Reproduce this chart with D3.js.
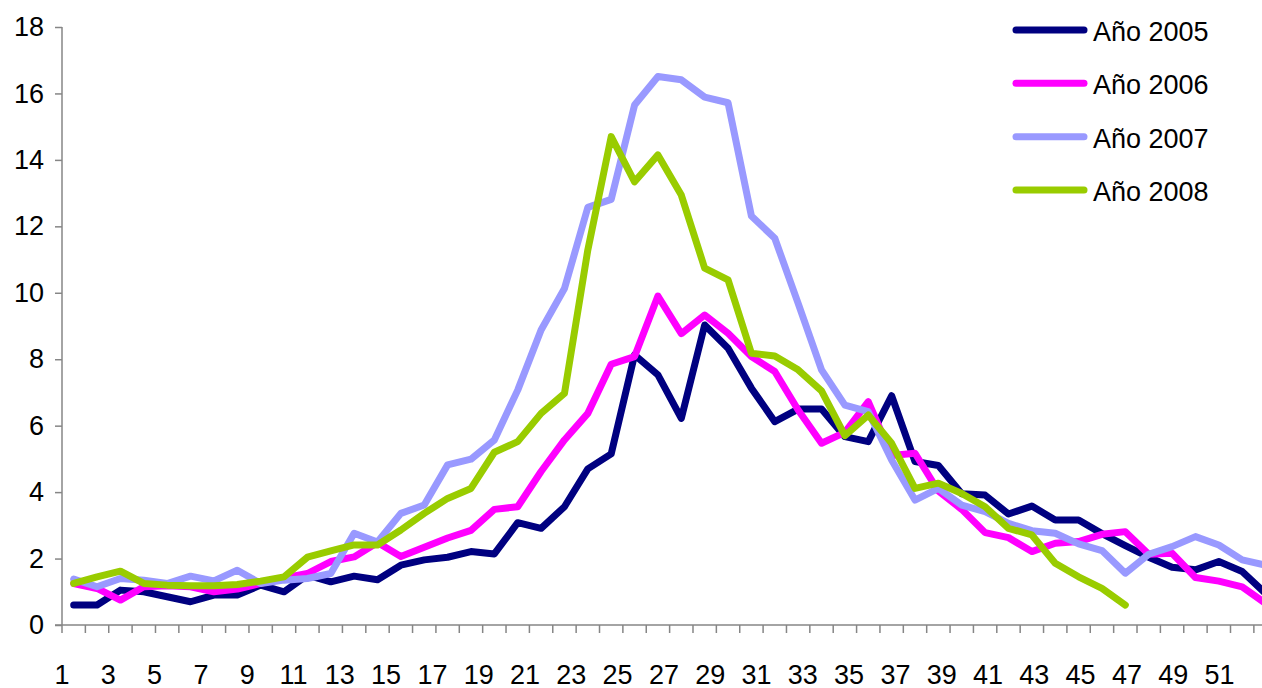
<!DOCTYPE html>
<html>
<head>
<meta charset="utf-8">
<script src="https://cdn.jsdelivr.net/npm/d3@7"></script>
<style>
  html, body { margin: 0; padding: 0; background: #fff; }
  svg { display: block; }
  text { font-family: "Liberation Sans", Arial, sans-serif; fill: #000; }
</style>
</head>
<body>
<svg id="chart" width="1262" height="688"></svg>
<script>
// Weekly values per year (weeks 1..52; 2008 only runs to week 46)
const weeks = d3.range(1, 53);
const serie2005 = [0.60, 0.60, 1.05, 1.00, 0.85, 0.70, 0.90, 0.90, 1.20, 1.00,
  1.50, 1.30, 1.47, 1.36, 1.80, 1.96, 2.04, 2.21, 2.14, 3.08,
  2.91, 3.56, 4.70, 5.15, 8.13, 7.53, 6.22, 9.03, 8.33, 7.13,
  6.12, 6.50, 6.50, 5.67, 5.52, 6.90, 4.92, 4.80, 3.95, 3.91,
  3.34, 3.58, 3.16, 3.16, 2.75, 2.39, 2.04, 1.74, 1.66, 1.91,
  1.61, 0.95];
const serie2006 = [1.25, 1.10, 0.75, 1.15, 1.18, 1.15, 1.00, 1.08, 1.25, 1.42,
  1.55, 1.91, 2.05, 2.48, 2.06, 2.34, 2.62, 2.85, 3.48, 3.56,
  4.62, 5.57, 6.37, 7.85, 8.08, 9.90, 8.77, 9.33, 8.78, 8.08,
  7.63, 6.47, 5.47, 5.80, 6.72, 5.10, 5.17, 4.03, 3.48, 2.78,
  2.63, 2.21, 2.46, 2.51, 2.73, 2.81, 2.13, 2.16, 1.43, 1.32,
  1.15, 0.65];
const serie2007 = [1.38, 1.15, 1.40, 1.35, 1.25, 1.47, 1.33, 1.65, 1.25, 1.35,
  1.40, 1.55, 2.76, 2.50, 3.36, 3.61, 4.82, 4.99, 5.57, 7.07,
  8.88, 10.13, 12.57, 12.81, 15.65, 16.51, 16.41, 15.89, 15.72, 12.31,
  11.64, 9.68, 7.68, 6.62, 6.42, 4.97, 3.76, 4.11, 3.61, 3.41,
  3.06, 2.84, 2.76, 2.44, 2.24, 1.56, 2.13, 2.36, 2.66, 2.41,
  1.96, 1.80];
const serie2008 = [1.25, 1.45, 1.62, 1.25, 1.20, 1.18, 1.18, 1.22, 1.32, 1.45,
  2.04, 2.23, 2.41, 2.41, 2.86, 3.36, 3.81, 4.11, 5.20, 5.52,
  6.37, 6.97, 11.29, 14.70, 13.34, 14.15, 12.94, 10.74, 10.39, 8.18,
  8.10, 7.68, 7.05, 5.70, 6.32, 5.47, 4.11, 4.27, 3.96, 3.56,
  2.91, 2.71, 1.86, 1.45, 1.10, 0.60];

const seriesNames = ["Año 2005", "Año 2006", "Año 2007", "Año 2008"];
const seriesValues = [serie2005, serie2006, serie2007, serie2008];
const seriesColors = ["#000080", "#FF00FF", "#9999FF", "#99CC00"];

const yTicks = d3.range(0, 19, 2);
const xTickLabels = d3.range(1, 52, 2);

const svg = d3.select("#chart");
const axisColor = "#868686";
const fontSize = 27;

// Scales
const bandW = 23.37;
const x = d3.scaleBand().domain(weeks).range([62, 62 + weeks.length * bandW]);
const xLabel = d3.scaleLinear().domain([1, 51]).range([62, 1219.5]);
const y = d3.scaleLinear().domain([0, 18]).range([625, 27]);
const cx = d => x(d) + x.bandwidth() / 2;

// Y axis
const yAxis = svg.append("g").attr("transform", "translate(62,0)")
  .call(d3.axisLeft(y).tickValues(yTicks).tickSize(7).tickPadding(11).tickFormat(d3.format("d")));
yAxis.select(".domain").attr("stroke", axisColor).attr("stroke-width", 1.5)
  .attr("d", `M0,${y(18)}V${y(0)}`);
yAxis.selectAll(".tick line").attr("stroke", axisColor).attr("stroke-width", 1.5);
yAxis.selectAll(".tick text").attr("font-size", fontSize)
  .attr("font-family", "'Liberation Sans', Arial, sans-serif").attr("fill", "#000");

// X axis: baseline, category boundary ticks, odd week labels
const xAxis = svg.append("g");
xAxis.append("line")
  .attr("x1", 55).attr("x2", 1262).attr("y1", y(0)).attr("y2", y(0))
  .attr("stroke", axisColor).attr("stroke-width", 1.5);
xAxis.selectAll("line.xt").data(weeks).join("line").attr("class", "xt")
  .attr("x1", d => x(d)).attr("x2", d => x(d))
  .attr("y1", y(0)).attr("y2", y(0) + 8)
  .attr("stroke", axisColor).attr("stroke-width", 1.5);
xAxis.selectAll("text").data(xTickLabels).join("text")
  .attr("x", d => xLabel(d)).attr("y", 683.5)
  .attr("text-anchor", "middle").attr("font-size", fontSize)
  .text(d => d);

// Lines
const line = d3.line().x((d, i) => cx(weeks[i])).y(d => y(d));
svg.append("g").selectAll("path").data(seriesValues).join("path")
  .attr("d", d => line(d))
  .attr("fill", "none")
  .attr("stroke", (d, i) => seriesColors[i])
  .attr("stroke-width", 7)
  .attr("stroke-linejoin", "round")
  .attr("stroke-linecap", "round");

// Legend
const legendY = d3.scalePoint().domain(seriesNames).range([30, 190]);
const legend = svg.append("g");
const items = legend.selectAll("g").data(seriesNames).join("g")
  .attr("transform", d => `translate(0,${legendY(d)})`);
items.append("line")
  .attr("x1", 1016).attr("x2", 1084).attr("y1", 0).attr("y2", 0)
  .attr("stroke", (d, i) => seriesColors[i]).attr("stroke-width", 7)
  .attr("stroke-linecap", "round");
items.append("text")
  .attr("x", 1093).attr("y", 11)
  .attr("font-size", fontSize)
  .text(d => d);
</script>
</body>
</html>
